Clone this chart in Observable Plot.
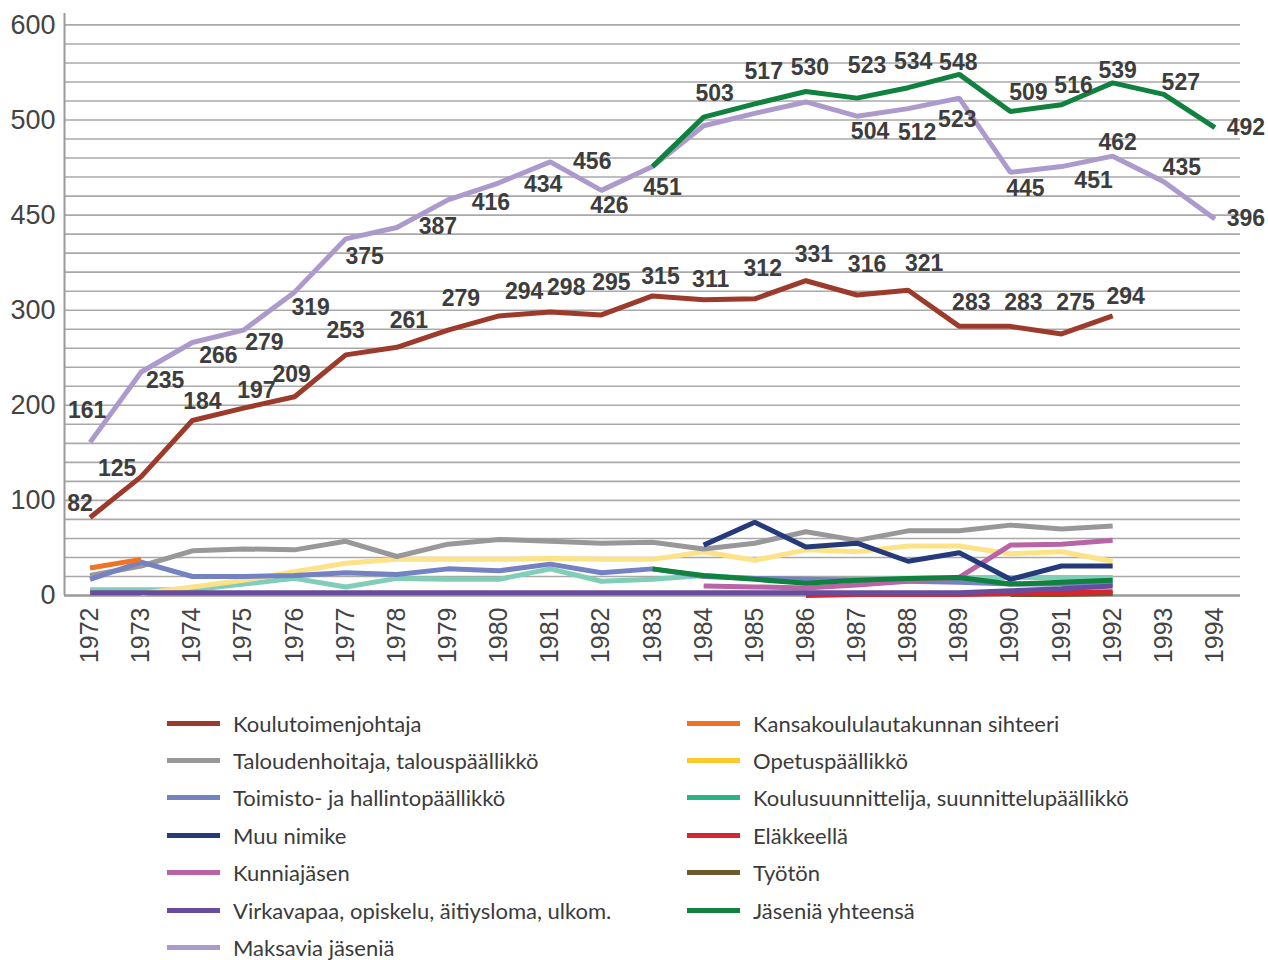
<!DOCTYPE html>
<html><head><meta charset="utf-8">
<script src="https://cdn.jsdelivr.net/npm/d3@7"></script>
<script src="https://cdn.jsdelivr.net/npm/@observablehq/plot@0.6"></script>
<style>
body{margin:0;background:#fff;}
#chart svg{display:block;}
g[aria-label="x-axis tick label"], g[aria-label="x-axis"] text{font-size:25px;}
.legend{position:relative;height:270px;font-family:Lato,"Noto Sans",sans-serif;font-size:22px;color:#3b3b3b;}
.item{position:absolute;display:flex;align-items:center;height:37px;white-space:nowrap;}
.sw{width:53px;height:5px;margin-right:13px;flex:none;}
</style></head><body>
<div id="chart"></div>
<div class="legend" id="legend"></div>
<script>
// ---- data ----
const years = [1972,1973,1974,1975,1976,1977,1978,1979,1980,1981,1982,1983,1984,1985,1986,1987,1988,1989,1990,1991,1992,1993,1994];
const yTicks = [0,100,200,300,400,500,600];
const yTickText = ["0","100","200","300","450","500","600"];

const koulutoimenjohtaja = [82,125,184,197,209,253,261,279,294,298,295,315,311,312,331,316,321,283,283,275,294,null,null];
const taloudenhoitaja = [21,31,47,49,48,57,41,54,59,57,55,56,49,55,67,58,68,68,74,70,73,null,null];
const toimisto = [17,35,20,20,21,24,22,28,26,33,24,28,20,18,17,16,15,14,12,12,12,null,null];
const muuNimike = [null,null,null,null,null,null,null,null,null,null,null,null,53,77,51,55,36,45,17,31,31,null,null];
const kunniajasen = [null,null,null,null,null,null,null,null,null,null,null,null,10,9,8,11,15,19,53,54,58,null,null];
const virkavapaa = [3,3,3,3,3,3,3,3,3,3,3,3,3,3,3,3,3,3,5,7,10,null,null];
const maksavia = [161,235,266,279,319,375,387,416,434,456,426,451,494,507,519,504,512,523,445,451,462,435,396];
const kansakoulu = [29,38,null,null,null,null,null,null,null,null,null,null,null,null,null,null,null,null,null,null,null,null,null];
const opetus = [null,2,9,16,25,34,38,38,38,39,38,38,46,37,48,46,52,52,44,46,36,null,null];
const koulusuunnittelija = [6,6,6,12,18,9,18,17,17,28,15,17,21,18,16,17,18,19,19,19,19,null,null];
const elakkeella = [null,null,null,null,null,null,null,null,null,null,null,null,null,null,0,1,1,1,2,3,4,null,null];
const tyoton = [null,null,null,null,null,null,null,null,null,null,null,null,null,null,null,null,null,null,1,1,2,null,null];
const jaseniaYhteensa = [null,null,null,null,null,null,null,null,null,null,null,451,503,517,530,523,534,548,509,516,539,527,492];
const jaseniaYhteensaAla = [null,null,null,null,null,null,null,null,null,null,null,28,21,17,13,16,18,19,12,14,16,null,null];

const names = {
  koulutoimenjohtaja: "Koulutoimenjohtaja",
  taloudenhoitaja: "Taloudenhoitaja, talouspäällikkö",
  toimisto: "Toimisto- ja hallintopäällikkö",
  muuNimike: "Muu nimike",
  kunniajasen: "Kunniajäsen",
  virkavapaa: "Virkavapaa, opiskelu, äitiysloma, ulkom.",
  maksavia: "Maksavia jäseniä",
  kansakoulu: "Kansakoululautakunnan sihteeri",
  opetus: "Opetuspäällikkö",
  koulusuunnittelija: "Koulusuunnittelija, suunnittelupäällikkö",
  elakkeella: "Eläkkeellä",
  tyoton: "Työtön",
  jaseniaYhteensa: "Jäseniä yhteensä"
};
const values = {koulutoimenjohtaja, taloudenhoitaja, toimisto, muuNimike, kunniajasen, virkavapaa, maksavia,
  kansakoulu, opetus, koulusuunnittelija, elakkeella, tyoton, jaseniaYhteensa, jaseniaYhteensaAla};

// ---- styles ----
const legendColor = {
  koulutoimenjohtaja:"#9c3b2c", taloudenhoitaja:"#98989a", toimisto:"#7482c2", muuNimike:"#253a7b",
  kunniajasen:"#b964a6", virkavapaa:"#6a4c9c", maksavia:"#ad9acc", kansakoulu:"#f07225",
  opetus:"#fdc82a", koulusuunnittelija:"#28b585", elakkeella:"#d7252d", tyoton:"#6b5a2f", jaseniaYhteensa:"#10813e"
};
const lineColor = Object.assign({}, legendColor, {opetus:"#fde387", koulusuunnittelija:"#80ceb8", jaseniaYhteensaAla:"#10813e"});
const drawOrder = ["tyoton","koulusuunnittelija","opetus","taloudenhoitaja","toimisto","kansakoulu","kunniajasen",
  "muuNimike","elakkeella","virkavapaa","jaseniaYhteensaAla","koulutoimenjohtaja","maksavia","jaseniaYhteensa"];

// label nudges (layout only): year -> [dx, dy]
const nudges = {
  koulutoimenjohtaja: {1972:[-10,-14],1973:[-24,-8],1974:[10,-19],1975:[13,-18],1976:[-3,-22],1977:[0,-24],1978:[12,-27],
    1979:[13,-32],1980:[25,-24],1981:[16,-24],1982:[10,-32],1983:[8,-19],1984:[7,-20],1985:[8,-30],1986:[8,-26],
    1987:[10,-30],1988:[16,-27],1989:[12,-24],1990:[13,-24],1991:[14,-31],1992:[13,-19]},
  maksavia: {1972:[-3,-32],1973:[24,9],1974:[26,13],1975:[21,12],1976:[16,15],1977:[19,18],1978:[41,-1],1979:[43,3],
    1980:[44,2],1981:[42,0],1982:[8,15],1983:[10,21],1987:[13,15],1988:[9,24],1989:[-2,21],1990:[15,16],1991:[32,14],
    1992:[5,-14],1993:[18,-14],1994:[31,0]},
  jaseniaYhteensa: {1984:[11,-24],1985:[9,-32],1986:[4,-24],1987:[10,-33],1988:[5,-26],1989:[-1,-12],1990:[18,-19],
    1991:[12,-19],1992:[5,-12],1993:[17,-12],1994:[31,0]}
};

const rowsOf = key => years.map((year, i) => ({year, value: values[key][i]})).filter(d => d.value != null);

const marks = [
  Plot.ruleY(d3.range(20, 601, 20), {stroke: "#a9a9a9", strokeWidth: 1.6}),
  Plot.ruleY([0], {stroke: "#9a9a9a", strokeWidth: 2.5}),
  Plot.ruleX([1971.5], {y1: 0, y2: 612, stroke: "#9a9a9a", strokeWidth: 2})
];
for (const key of drawOrder) {
  marks.push(Plot.line(rowsOf(key), {x: "year", y: "value", stroke: lineColor[key], strokeWidth: 5,
    strokeLinejoin: "miter", strokeLinecap: "butt"}));
}
for (const key of Object.keys(nudges)) {
  for (const d of rowsOf(key)) {
    const n = nudges[key][d.year];
    if (!n) continue;
    marks.push(Plot.text([d], {x: "year", y: "value", text: d => String(d.value), dx: n[0], dy: n[1],
      fontSize: 23, fontWeight: "bold", fill: "#3d3d3d", fontFamily: "'Liberation Sans', Arial, sans-serif"}));
  }
}

const chart = Plot.plot({
  width: 1268, height: 690,
  marginLeft: 64, marginRight: 28, marginTop: 13, marginBottom: 95,
  style: {fontFamily: "'Liberation Sans', Arial, sans-serif", fontSize: "27px", color: "#444", background: "#fff"},
  x: {type: "linear", domain: [1971.5, 1994.5], ticks: years, tickFormat: d => String(d), tickRotate: -90,
      tickSize: 0, tickPadding: 12, label: null},
  y: {domain: [0, 612], ticks: yTicks, tickFormat: d => yTickText[yTicks.indexOf(d)], tickSize: 0, tickPadding: 9, label: null},
  marks
});
document.getElementById("chart").appendChild(chart);

// ---- legend ----
const legendCols = [
  ["koulutoimenjohtaja","taloudenhoitaja","toimisto","muuNimike","kunniajasen","virkavapaa","maksavia"],
  ["kansakoulu","opetus","koulusuunnittelija","elakkeella","tyoton","jaseniaYhteensa"]
];
const legend = document.getElementById("legend");
legendCols.forEach((col, c) => col.forEach((key, r) => {
  const it = document.createElement("div");
  it.className = "item";
  it.style.left = (c === 0 ? 167 : 687) + "px";
  it.style.top = (14.5 + r * 37.4) + "px";
  const sw = document.createElement("span");
  sw.className = "sw"; sw.style.background = legendColor[key];
  const tx = document.createElement("span");
  tx.textContent = names[key];
  it.appendChild(sw); it.appendChild(tx);
  legend.appendChild(it);
}));
</script>
</body></html>
